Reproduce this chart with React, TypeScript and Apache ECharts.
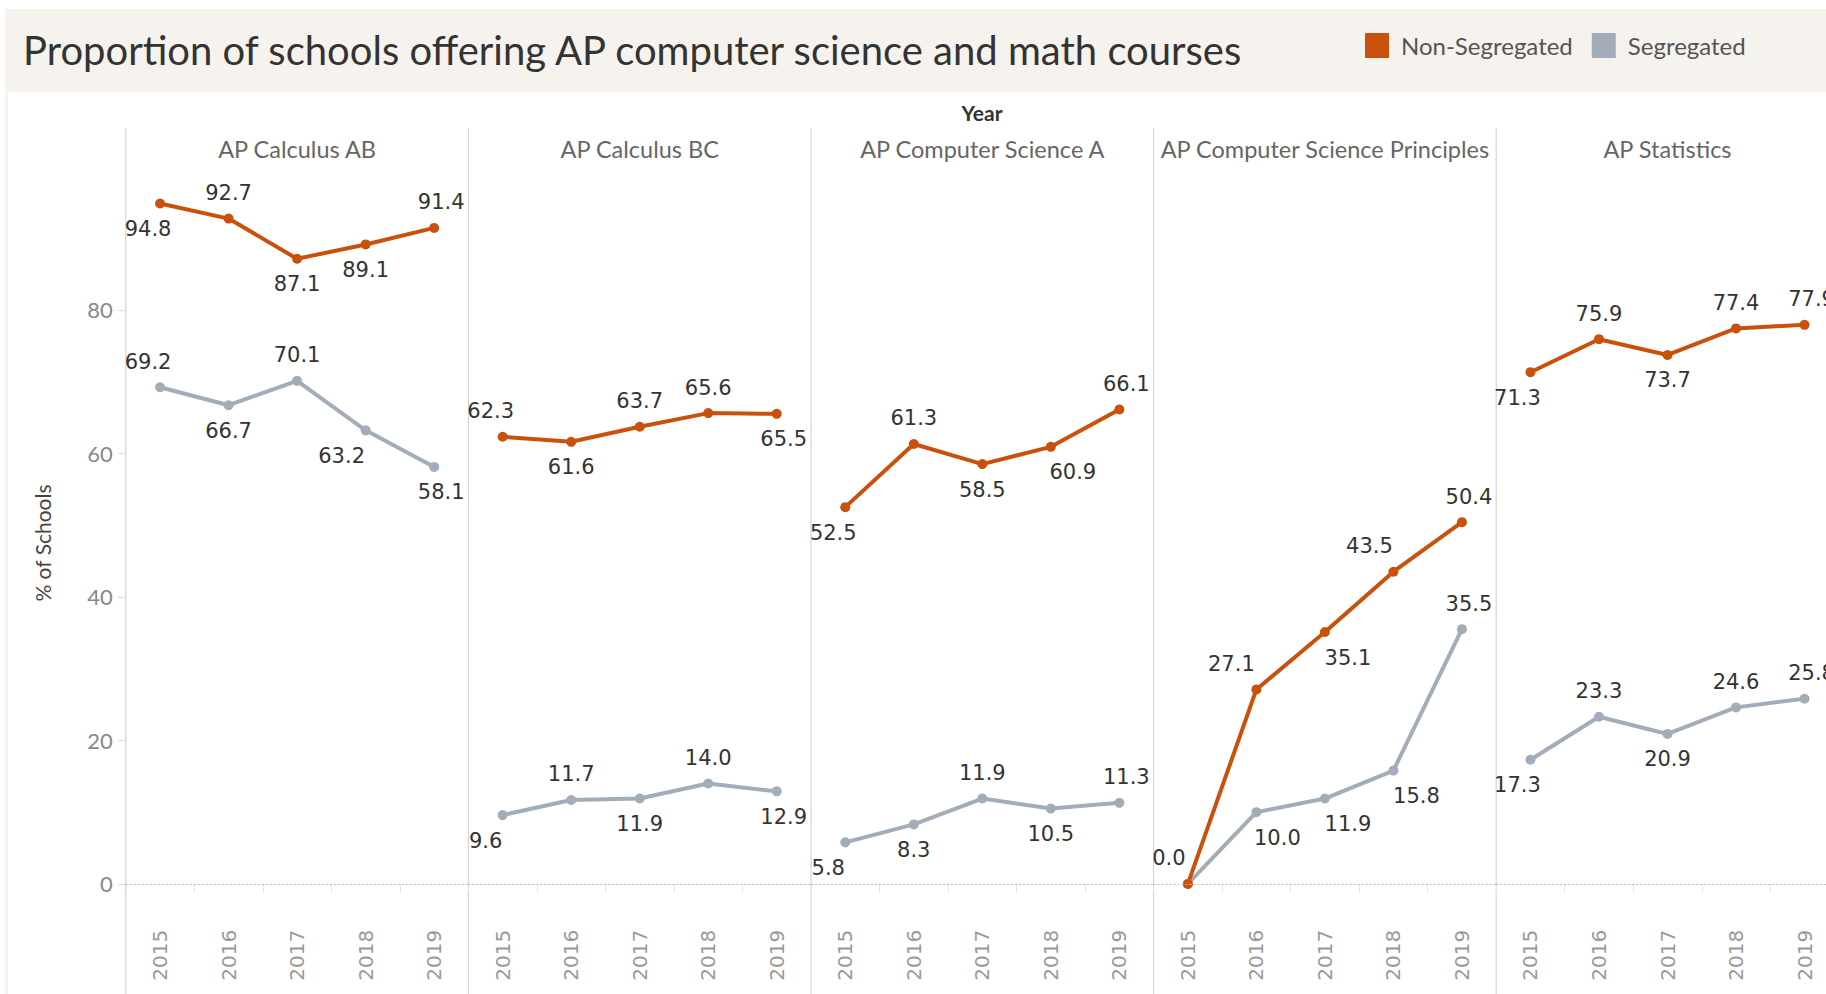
import React, { useEffect, useRef } from "react";
import * as echarts from "echarts";

const YEARS = ["2015", "2016", "2017", "2018", "2019"];
const COURSES = [
  "AP Calculus AB",
  "AP Calculus BC",
  "AP Computer Science A",
  "AP Computer Science Principles",
  "AP Statistics",
];
const NON_SEG_CALC_AB = [94.8, 92.7, 87.1, 89.1, 91.4];
const SEG_CALC_AB = [69.2, 66.7, 70.1, 63.2, 58.1];
const NON_SEG_CALC_BC = [62.3, 61.6, 63.7, 65.6, 65.5];
const SEG_CALC_BC = [9.6, 11.7, 11.9, 14.0, 12.9];
const NON_SEG_CSA = [52.5, 61.3, 58.5, 60.9, 66.1];
const SEG_CSA = [5.8, 8.3, 11.9, 10.5, 11.3];
const NON_SEG_CSP = [0.0, 27.1, 35.1, 43.5, 50.4];
const SEG_CSP = [0.0, 10.0, 11.9, 15.8, 35.5];
const NON_SEG_STATS = [71.3, 75.9, 73.7, 77.4, 77.9];
const SEG_STATS = [17.3, 23.3, 20.9, 24.6, 25.8];
const NON_SEG = [NON_SEG_CALC_AB, NON_SEG_CALC_BC, NON_SEG_CSA, NON_SEG_CSP, NON_SEG_STATS];
const SEG = [SEG_CALC_AB, SEG_CALC_BC, SEG_CSA, SEG_CSP, SEG_STATS];
const Y_TICKS = [0, 20, 40, 60, 80];

// label placement (styling): t = above, b = below, n = hidden; and horizontal nudges
const NON_SEG_POS = [
  ["b", "t", "b", "b", "t"],
  ["t", "b", "t", "t", "b"],
  ["b", "t", "b", "b", "t"],
  ["t", "t", "b", "t", "t"],
  ["b", "t", "b", "t", "t"],
];
const NON_SEG_DX = [
  [-12, 0, 0, 0, 7],
  [-12, 0, 0, 0, 7],
  [-12, 0, 0, 22, 7],
  [-19, -25, 23, -24, 7],
  [-13, 0, 0, 0, 7],
];
const SEG_POS = [
  ["t", "b", "t", "b", "b"],
  ["b", "t", "b", "t", "b"],
  ["b", "b", "t", "b", "t"],
  ["n", "b", "b", "b", "t"],
  ["b", "t", "b", "t", "t"],
];
const SEG_DX = [
  [-12, 0, 0, -24, 7],
  [-17, 0, 0, 0, 7],
  [-17, 0, 0, 0, 7],
  [0, 21, 23, 23, 7],
  [-13, 0, 0, 0, 7],
];

const ORANGE = "#C9510C";
const GRAY = "#A3ADBA";
const PANEL_LEFT = 125.8;
const PANEL_W = 342.6;
const GRID_TOP = 166.2;
const Y_MIN = -5;
const Y_MAX = 100;
const PX_PER_UNIT = 7.1775;
const GRID_H = (Y_MAX - Y_MIN) * PX_PER_UNIT;

function buildData(values: number[], pos: string[], dx: number[]) {
  return values.map((v, i) => ({
    value: v,
    label: {
      show: pos[i] !== "n",
      position: pos[i] === "t" ? "top" : "bottom",
      offset: [dx[i], 0],
    },
  }));
}

export default function App() {
  const ref = useRef<HTMLDivElement>(null);
  useEffect(() => {
    if (!ref.current) return;
    const chart = echarts.init(ref.current, null, { renderer: "svg" });
    const grids: any[] = [];
    const xAxes: any[] = [];
    const yAxes: any[] = [];
    const series: any[] = [];
    const graphics: any[] = [
      { type: "rect", z: -10, shape: { x: 5, y: 9, width: 1821, height: 83 }, style: { fill: "#F6F2EE" } },
      { type: "rect", z: -10, shape: { x: 5, y: 92, width: 3, height: 902 }, style: { fill: "#F6F2EE" } },
      {
        type: "text",
        x: 23,
        y: 50,
        style: {
          text: "Proportion of schools offering AP computer science and math courses",
          font: "40px Lato",
          fill: "#333333",
          textVerticalAlign: "middle",
        },
      },
      {
        type: "text",
        x: 982,
        y: 112,
        style: { text: "Year", font: "bold 21px Lato", fill: "#333333", textAlign: "center", textVerticalAlign: "middle" },
      },
    ];
    for (let i = 0; i <= COURSES.length; i++) {
      const x = PANEL_LEFT + i * PANEL_W;
      graphics.push({
        type: "line",
        z: -5,
        shape: { x1: x, y1: 128, x2: x, y2: 994 },
        style: { stroke: "#D4D4D4", lineWidth: 1.2 },
      });
    }
    COURSES.forEach((name, i) => {
      graphics.push({
        type: "text",
        x: PANEL_LEFT + i * PANEL_W + PANEL_W / 2,
        y: 149,
        style: { text: name, font: "23.5px Lato", fill: "#666666", textAlign: "center", textVerticalAlign: "middle" },
      });
      grids.push({
        left: PANEL_LEFT + i * PANEL_W,
        width: PANEL_W,
        top: GRID_TOP,
        height: GRID_H,
        containLabel: false,
        outerBoundsMode: "none",
      });
      xAxes.push({
        type: "category",
        gridIndex: i,
        data: YEARS,
        boundaryGap: true,
        axisLine: { show: false },
        axisTick: { show: true, length: 9, interval: 0, lineStyle: { color: "#E6E6E6" } },
        axisLabel: {
          rotate: 90,
          margin: 10,
          interval: 0,
          color: "#999999",
          fontFamily: "DejaVu Sans",
          fontSize: 20,
        },
        splitLine: { show: false },
      });
      yAxes.push({
        type: "value",
        gridIndex: i,
        min: Y_MIN,
        max: Y_MAX,
        show: i === 0,
        name: i === 0 ? "% of Schools" : "",
        nameLocation: "middle",
        nameRotate: 90,
        nameGap: 73,
        nameTextStyle: { color: "#444444", fontFamily: "Lato", fontSize: 21 },
        axisLine: { show: false },
        axisTick: { show: true, length: 8, customValues: Y_TICKS, lineStyle: { color: "#DDDDDD" } },
        axisLabel: {
          customValues: Y_TICKS,
          margin: 13,
          color: "#888888",
          fontFamily: "Lato",
          fontSize: 22,
        },
        splitLine: { show: false },
      });
      const common = {
        type: "line",
        xAxisIndex: i,
        yAxisIndex: i,
        symbol: "circle",
        symbolSize: 10,
        label: {
          show: true,
          distance: 10,
          color: "#333333",
          fontFamily: "DejaVu Sans",
          fontSize: 21,
          formatter: (p: any) => Number(p.value).toFixed(1),
        },
        emphasis: { disabled: true },
      };
      series.push({
        ...common,
        name: "Segregated",
        color: GRAY,
        itemStyle: { color: GRAY },
        lineStyle: { width: 4, color: GRAY },
        data: buildData(SEG[i], SEG_POS[i], SEG_DX[i]),
        markLine: {
          silent: true,
          symbol: "none",
          label: { show: false },
          lineStyle: { color: "#BBBBBB", type: [2, 2], width: 1 },
          data: [{ yAxis: 0 }],
        },
      });
      series.push({
        ...common,
        name: "Non-Segregated",
        color: ORANGE,
        itemStyle: { color: ORANGE },
        lineStyle: { width: 4, color: ORANGE },
        data: buildData(NON_SEG[i], NON_SEG_POS[i], NON_SEG_DX[i]),
      });
    });

    chart.setOption({
      animation: false,
      backgroundColor: "#FFFFFF",
      legend: {
        data: ["Non-Segregated", "Segregated"],
        left: 1360,
        top: 28,
        icon: "rect",
        itemWidth: 24,
        itemHeight: 25,
        itemGap: 19,
        selectedMode: false,
        textStyle: { color: "#555555", fontFamily: "Lato", fontSize: 24, padding: [0, 0, 0, 7] },
      },
      grid: grids,
      xAxis: xAxes,
      yAxis: yAxes,
      series,
      graphic: graphics,
    });
    return () => chart.dispose();
  }, []);
  return (
    <div
      ref={ref}
      style={{ position: "fixed", left: 0, top: 0, width: 1826, height: 994, background: "#fff" }}
    />
  );
}
